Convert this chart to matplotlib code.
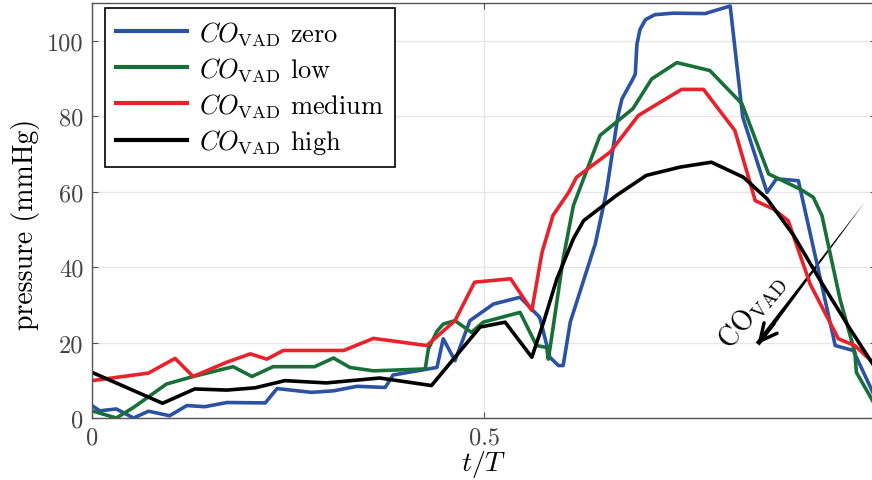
import matplotlib
matplotlib.use("Agg")
import matplotlib.pyplot as plt
from matplotlib.patches import FancyArrowPatch

plt.rcParams['font.family'] = ['cmr10', 'DejaVu Serif']
plt.rcParams['mathtext.fontset'] = 'cm'
plt.rcParams['axes.unicode_minus'] = False

# ---------------- data ----------------
t_zero = [0.0, 0.010, 0.031, 0.053, 0.072, 0.099, 0.121, 0.144, 0.172, 0.221, 0.236, 0.280, 0.308,
          0.338, 0.374, 0.384, 0.440, 0.448, 0.463, 0.482, 0.512, 0.546, 0.571, 0.584, 0.595, 0.601,
          0.610, 0.642, 0.656, 0.671, 0.676, 0.690, 0.693, 0.695, 0.699, 0.706, 0.718, 0.741, 0.782,
          0.814, 0.830, 0.861, 0.873, 0.901, 0.929, 0.948, 0.971, 1.0]
p_zero = [3.3, 1.9, 2.4, 0.0, 1.8, 0.6, 3.3, 3.0, 4.1, 4.0, 7.8, 6.8, 7.2,
          8.4, 8.1, 11.4, 13.4, 21.0, 15.2, 25.8, 30.2, 32.0, 26.7, 16.1, 13.9, 13.9,
          25.4, 46.2, 59.8, 80.2, 84.6, 89.9, 91.2, 99.0, 103.0, 105.6, 106.9, 107.3, 107.2,
          109.2, 79.8, 59.8, 63.4, 62.9, 36.9, 19.2, 17.9, 5.0]

t_low = [0.0, 0.031, 0.053, 0.095, 0.129, 0.180, 0.204, 0.231, 0.284, 0.308, 0.329, 0.359, 0.425,
         0.429, 0.440, 0.448, 0.463, 0.484, 0.499, 0.546, 0.567, 0.580, 0.582, 0.586, 0.601, 0.614,
         0.648, 0.690, 0.714, 0.746, 0.788, 0.829, 0.863, 0.903, 0.920, 0.931, 0.954, 0.973, 0.975, 1.0]
p_low = [1.9, 0.0, 2.8, 9.0, 11.0, 13.6, 11.0, 13.6, 13.6, 15.9, 13.4, 12.5, 13.0,
         18.3, 23.0, 24.9, 25.8, 22.7, 25.4, 28.0, 19.2, 18.7, 15.6, 21.0, 42.2, 56.3,
         74.9, 82.0, 89.9, 94.2, 92.1, 83.3, 64.7, 60.7, 58.5, 53.7, 31.6, 17.4, 12.1, 3.0]

t_medium = [0.0, 0.072, 0.106, 0.129, 0.172, 0.202, 0.223, 0.244, 0.321, 0.359, 0.427, 0.463, 0.488,
            0.534, 0.561, 0.574, 0.588, 0.608, 0.618, 0.661, 0.697, 0.752, 0.780, 0.820, 0.846,
            0.869, 0.888, 0.916, 0.952, 0.973, 1.0]
p_medium = [9.9, 11.9, 15.8, 11.0, 14.8, 17.0, 15.6, 17.9, 17.9, 21.1, 19.2, 25.8, 36.0,
            36.9, 28.5, 43.9, 53.7, 59.8, 63.8, 70.5, 80.2, 87.1, 87.1, 76.2, 57.6,
            55.4, 52.3, 35.5, 21.0, 19.2, 14.0]

t_high = [0.0, 0.090, 0.131, 0.172, 0.208, 0.246, 0.299, 0.367, 0.433, 0.495, 0.527, 0.561, 0.576,
          0.593, 0.614, 0.627, 0.669, 0.707, 0.750, 0.790, 0.831, 0.861, 0.895, 0.929, 0.967, 1.0]
p_high = [12.1, 3.9, 7.7, 7.4, 8.0, 9.9, 9.3, 10.6, 8.6, 24.1, 25.4, 16.1, 25.4,
          36.9, 47.5, 52.3, 59.0, 64.3, 66.5, 67.8, 63.8, 58.1, 48.4, 36.4, 23.6, 13.0]

series_labels = [r'$CO_{\mathrm{VAD}}$ zero', r'$CO_{\mathrm{VAD}}$ low',
                 r'$CO_{\mathrm{VAD}}$ medium', r'$CO_{\mathrm{VAD}}$ high']
series_colors = ['#2b52a3', '#187038', '#e8212b', '#000000']

xticks = [0.0, 0.5]
xtick_labels = ['0', '0.5']
yticks = [0, 20, 40, 60, 80, 100]
ytick_labels = ['0', '20', '40', '60', '80', '100']

# ---------------- figure ----------------
fig = plt.figure(figsize=(8.72, 4.81), dpi=100)
ax = fig.add_axes([92/872, 62/481, 784/872, 415/481])

data = [(t_zero, p_zero), (t_low, p_low), (t_medium, p_medium), (t_high, p_high)]
for (tt, pp), lab, col in zip(data, series_labels, series_colors):
    ax.plot(tt, pp, color=col, lw=2.6, label=lab)

ax.set_xlim(0, 1)
ax.set_ylim(0, 110)
ax.set_xticks(xticks)
ax.set_xticklabels(xtick_labels)
ax.set_yticks(yticks)
ax.set_yticklabels(ytick_labels)
ax.grid(True, color='#e6e6e6', lw=1.0)
ax.set_axisbelow(True)
for s in ax.spines.values():
    s.set_color('#555555')
    s.set_linewidth(1.0)
ax.tick_params(direction='in', length=4, color='#555555', labelcolor='#444444',
               labelsize=17.5, top=True, right=True, pad=6)

ax.set_xlabel(r'$t/T$', fontsize=20, labelpad=0)
ax.set_ylabel('pressure (mmHg)', fontsize=20)
ax.yaxis.set_label_coords(-0.066, 0.47)

leg = ax.legend(loc='upper left', bbox_to_anchor=(0.0166, 0.988), borderaxespad=0,
                fontsize=19, frameon=True, fancybox=False, framealpha=1,
                handlelength=2.7, handletextpad=0.45, labelspacing=0.31, borderpad=0.42)
leg.get_frame().set_edgecolor('black')
leg.get_frame().set_linewidth(1.2)
for h in leg.get_lines():
    h.set_linewidth(3)

# tapered arrow annotation
head = (0.849, 19.6)
tail = (0.986, 57.3)
wedge = FancyArrowPatch(posA=head, posB=tail, arrowstyle='wedge,tail_width=0.35,shrink_factor=0.5',
                        mutation_scale=10, color='black', lw=0, shrinkA=0, shrinkB=0)
ax.add_patch(wedge)
ax.annotate('', xy=head, xytext=(0.87, 25.0),
            arrowprops=dict(arrowstyle='->,head_length=0.6,head_width=0.3', lw=2.5,
                            color='black', shrinkA=0, shrinkB=0, mutation_scale=20))
ax.text(0.842, 28.4, r'$\mathrm{CO}_{\mathrm{VAD}}$', fontsize=20, rotation=50,
        ha='center', va='center')

fig.savefig('out.png', dpi=100)
